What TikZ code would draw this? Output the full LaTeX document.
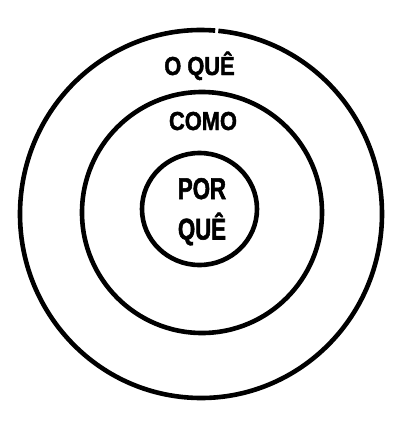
\documentclass[tikz,border=0pt]{standalone}
\usepackage{fontspec}
\newfontfamily\ringfont[FakeStretch=0.84, BoldFeatures={FakeBold=1.6}]{Liberation Sans}
\newfontfamily\corefont[FakeStretch=0.74, BoldFeatures={FakeBold=1.8}]{Liberation Sans}
\tikzset{
	ring/.style={line width=4.6pt},
	ringlabel/.style={font=\ringfont\bfseries\fontsize{26}{28}\selectfont, inner sep=0pt, anchor=base},
	corelabel/.style={font=\corefont\bfseries\fontsize{30}{32}\selectfont, inner sep=0pt, anchor=base}
}

\begin{document}
\begin{tikzpicture}[x=1pt,y=-1pt]
				\useasboundingbox (0,0) rectangle (406,421);
				
				% outer ring, small gap at the top
				\draw[ring] (201,214) ++(-84.5:181 and 184) arc[start angle=-84.5, end angle=274.5, x radius=181, y radius=184];
				\node[ringlabel] (what) at (199.5,75) {O QUÊ};
				
				% middle ring
				\draw[ring] (202,212.5) ellipse (120 and 120.5);
				\node[ringlabel] (how) at (203,130) {COMO};
				
				% inner ring
				\draw[ring] (199.5,209) ellipse (57.5 and 56);
				\node[corelabel] (why) at (202,199) {POR};
				\node[corelabel] (whyb) at (202,239.5) {QUÊ};
			\end{tikzpicture}
\end{document}
